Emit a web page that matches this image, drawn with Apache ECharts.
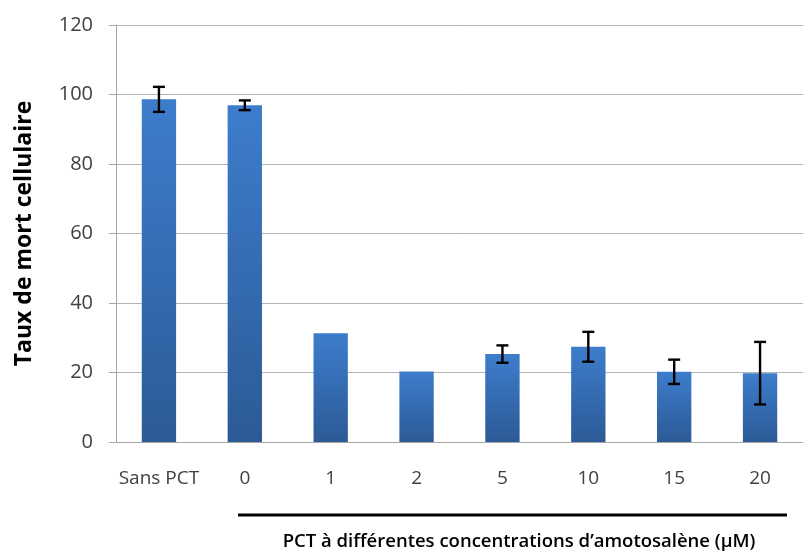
<!DOCTYPE html>
<html>
<head>
<meta charset="utf-8">
<script src="https://cdn.jsdelivr.net/npm/echarts@6/dist/echarts.min.js"></script>
<style>
  html, body { margin: 0; padding: 0; background: #fff; }
  #chart { width: 803px; height: 551px; }
</style>
</head>
<body>
<div id="chart"></div>
<script>
// data
var categories = ['Sans PCT', '0', '1', '2', '5', '10', '15', '20'];
var mortalite = [98.6, 96.9, 31.3, 20.3, 25.3, 27.4, 20.2, 19.8];
var ecartType = [3.6, 1.4, 0, 0, 2.5, 4.3, 3.5, 9.0];
var yTicks = [0, 20, 40, 60, 80, 100, 120];

let myChart = echarts.init(document.getElementById('chart'))

var police = '"Open Sans", "Liberation Sans", sans-serif';

var barres = {
    type: 'linearGradient',
    x: 0, y: 0, x2: 0, y2: 1,
    colorStops: [
        {offset: 0, color: '#3d7dcc'},
        {offset: 1, color: '#2c5a96'}
    ]
};

var erreurs = mortalite.map(function (v, i) {
    return [i, v - ecartType[i], v + ecartType[i]];
}).filter(function (d, i) { return ecartType[i] > 0; });

option = {
    animation: false,
    grid: {left: 116, right: -7, top: 25, bottom: 109},
    xAxis: {
        type: 'category',
        data: categories,
        axisLine: {lineStyle: {color: '#a6a6a6', width: 1}},
        axisTick: {show: false},
        axisLabel: {interval: 0, color: '#404040', fontFamily: police, fontSize: 19, margin: 27}
    },
    yAxis: {
        type: 'value',
        min: yTicks[0],
        max: yTicks[yTicks.length - 1],
        interval: 20,
        name: 'Taux de mort cellulaire',
        nameLocation: 'middle',
        nameRotate: 90,
        nameGap: 80,
        nameTextStyle: {color: '#000', fontFamily: police, fontSize: 23, fontWeight: 'bold'},
        axisLine: {show: true, lineStyle: {color: '#a6a6a6'}},
        axisTick: {show: true, length: 7, lineStyle: {color: '#a6a6a6'}},
        axisLabel: {color: '#404040', fontFamily: police, fontSize: 20, margin: 23},
        splitLine: {lineStyle: {color: '#b3b3b3', width: 1}}
    },
    series: [
        {
            type: 'bar',
            data: mortalite,
            barWidth: '40%',
            itemStyle: {color: barres}
        },
        {
            type: 'custom',
            data: erreurs,
            z: 10,
            renderItem: function (params, api) {
                var bas = api.coord([api.value(0), api.value(1)]);
                var haut = api.coord([api.value(0), api.value(2)]);
                var w = 6;
                var st = {stroke: '#000', lineWidth: 2.4};
                return {
                    type: 'group',
                    children: [
                        {type: 'line', shape: {x1: haut[0], y1: haut[1], x2: bas[0], y2: bas[1]}, style: st},
                        {type: 'line', shape: {x1: haut[0] - w, y1: haut[1], x2: haut[0] + w, y2: haut[1]}, style: st},
                        {type: 'line', shape: {x1: bas[0] - w, y1: bas[1], x2: bas[0] + w, y2: bas[1]}, style: st}
                    ]
                };
            }
        }
    ],
    graphic: [
        {
            type: 'line',
            shape: {x1: 238, y1: 515, x2: 787, y2: 515},
            style: {stroke: '#000', lineWidth: 3}
        },
        {
            type: 'text',
            x: 519, y: 542,
            style: {
                text: 'PCT à différentes concentrations d\u2019amotosalène (\u00b5M)',
                fill: '#000',
                font: '600 18.5px ' + police,
                textAlign: 'center',
                textVerticalAlign: 'middle'
            }
        }
    ]
};

myChart.setOption(option);
</script>
</body>
</html>
